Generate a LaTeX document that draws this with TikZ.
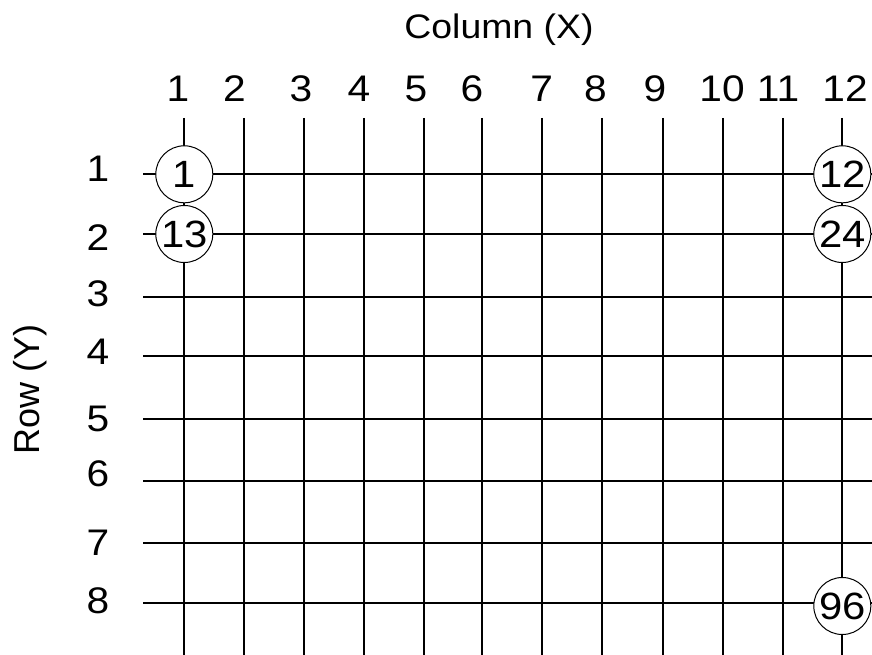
\documentclass[tikz,border=0pt]{standalone}
\usepackage{fontspec}
\setmainfont{Liberation Sans}
\usepackage{graphicx}
\newcommand{\widetxt}[1]{\scalebox{1.1}[1]{#1}}
\begin{document}
\begin{tikzpicture}[x=1pt,y=-1pt,
  gridline/.style={line width=1.7pt, black},
  cell/.style={circle, draw, line width=1pt, fill=white, minimum size=57pt, inner sep=0pt, font=\fontsize{38}{40}\selectfont},
  lab/.style={anchor=base, inner sep=0pt, font=\fontsize{37}{40}\selectfont},
  ttl/.style={anchor=base, inner sep=0pt, font=\fontsize{34}{40}\selectfont}]
\useasboundingbox (0,0) rectangle (872,655);
% vertical grid lines
\foreach \i/\x in {1/184.3,2/244.3,3/304.3,4/364.3,5/424.3,6/482.3,7/542.3,8/602.3,9/662.7,10/722.7,11/783,12/842.3}{
  \coordinate (t\i) at (\x,118);
  \coordinate (b\i) at (\x,655);
  \draw[gridline] (t\i) -- (b\i);
}
% horizontal grid lines
\foreach \j/\y in {1/174.3,2/234,3/296.7,4/356,5/418.7,6/480.7,7/543.3,8/603}{
  \coordinate (l\j) at (143,\y);
  \coordinate (r\j) at (872,\y);
  \draw[gridline] (l\j) -- (r\j);
}
% numbered cells
\node[cell] (c1)  at (t1 |- l1) {\widetxt{1}};
\node[cell] (c13) at (t1 |- l2) {\widetxt{13}};
\node[cell] (c12) at (t12 |- l1) {\widetxt{12}};
\node[cell] (c24) at (t12 |- l2) {\widetxt{24}};
\node[cell] (c96) at (842.3,606) {\widetxt{96}};
% column labels
\foreach \i/\x in {1/178,2/234.5,3/301,4/359,5/416,6/472,7/541.7,8/595.5,9/655,10/722,11/778,12/845}{
  \node[lab] (cl\i) at (\x,101.7) {\widetxt{\i}};
}
% row labels
\foreach \j/\y in {1/182,2/250,3/306.7,4/364,5/431.7,6/486.7,7/555,8/613}{
  \node[lab] (rl\j) at (98,\y) {\widetxt{\j}};
}
% axis titles
\node[ttl] (coltitle) at (499,38.3) {\widetxt{Column (X)}};
\node[ttl, rotate=90, font=\fontsize{36}{40}\selectfont] (rowtitle) at (39.3,389) {Row (Y)};
\end{tikzpicture}
\end{document}
